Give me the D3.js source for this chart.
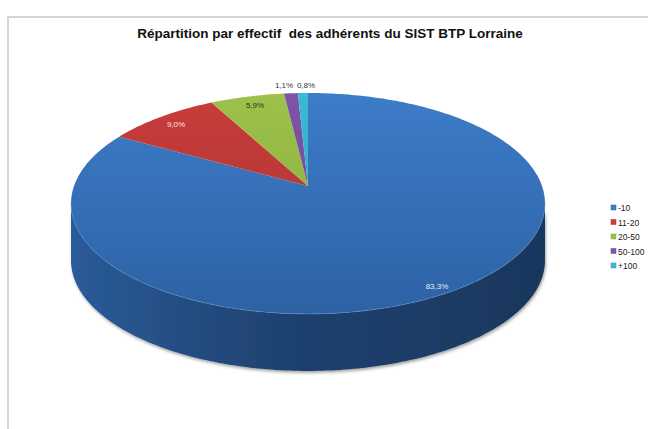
<!DOCTYPE html>
<html>
<head>
<meta charset="utf-8">
<script src="https://cdn.jsdelivr.net/npm/d3@7"></script>
<style>
  body { margin: 0; background: #fff; }
  svg { display: block; }
  text { font-family: "Liberation Sans", Arial, sans-serif; }
</style>
</head>
<body>
<svg width="648" height="429"></svg>
<script>
var categories = ["-10", "11-20", "20-50", "50-100", "+100"];
var values = [83.3, 9.0, 5.9, 1.1, 0.8];
var topColors = ["#3d7cc8", "#c93d3a", "#9cc24b", "#7d55a8", "#3cb9d8"];
var bottomColors = ["#2d62a4", "#a43331", "#84a83a", "#6a4492", "#2b9fbd"];
var labelColors = ["#e4ebf5", "#f4e2e2", "#2a3316", "#3b2a4a", "#2a3a40"];

var svg = d3.select("svg");
var defs = svg.append("defs");

// frame
svg.append("path")
    .attr("d", "M8,429 V17 H648")
    .attr("fill", "none")
    .attr("stroke", "#d6d6d6")
    .attr("stroke-width", 2);

// title
svg.append("text")
    .attr("x", 330)
    .attr("y", 38)
    .attr("text-anchor", "middle")
    .attr("font-size", 13.5)
    .attr("font-weight", "bold")
    .attr("fill", "#111")
    .style("white-space", "pre")
    .text("Répartition par effectif  des adhérents du SIST BTP Lorraine");

// pie geometry: circle seen in perspective, centre projected at apex
var ax = 308, ay = 186, A = 234, B = 107.7, k = 0.158, depth = 57;
var apex = [ax, ay];

function pt(a, dy) {
  var u = Math.sin(a), v = Math.cos(a), w = 1 + k * v;
  return [ax + A * u / w, ay - B * v / w + (dy || 0)];
}

var pie = d3.pie().sort(null).value(function(d) { return d; })
    .startAngle(0).endAngle(2 * Math.PI);
var arcs = pie(values);

var line = d3.line();

// gradients
arcs.forEach(function(d, i) {
  var g = defs.append("linearGradient")
      .attr("id", "top" + i)
      .attr("gradientUnits", "userSpaceOnUse")
      .attr("x1", 0).attr("y1", pt(0)[1])
      .attr("x2", 0).attr("y2", pt(Math.PI)[1]);
  g.append("stop").attr("offset", "0%").attr("stop-color", topColors[i]);
  g.append("stop").attr("offset", "100%").attr("stop-color", bottomColors[i]);

  var s = defs.append("linearGradient")
      .attr("id", "side" + i)
      .attr("gradientUnits", "userSpaceOnUse")
      .attr("x1", 70).attr("y1", 0)
      .attr("x2", 546).attr("y2", 0);
  s.append("stop").attr("offset", "0%").attr("stop-color", d3.color(bottomColors[i]).darker(0.2));
  s.append("stop").attr("offset", "45%").attr("stop-color", d3.color(bottomColors[i]).darker(1.1));
  s.append("stop").attr("offset", "100%").attr("stop-color", d3.color(bottomColors[i]).darker(1.6));
});

var shadow = defs.append("filter").attr("id", "shadow")
    .attr("x", "-10%").attr("y", "-10%").attr("width", "120%").attr("height", "130%");
shadow.append("feDropShadow")
    .attr("dx", 1).attr("dy", 2).attr("stdDeviation", 1.6)
    .attr("flood-color", "#000").attr("flood-opacity", 0.35);

// side walls: visible between the left and right silhouette points
var sideStart = Math.acos(-k), sideEnd = 2 * Math.PI - Math.acos(-k);
var sides = svg.append("g").attr("filter", "url(#shadow)");
arcs.forEach(function(d, i) {
  var a0 = Math.max(d.startAngle, sideStart);
  var a1 = Math.min(d.endAngle, sideEnd);
  if (a1 <= a0) return;
  var n = Math.max(2, Math.ceil((a1 - a0) * 60));
  var ts = d3.range(n + 1).map(function(j) { return a0 + (a1 - a0) * j / n; });
  var ptsTop = ts.map(function(a) { return pt(a); });
  var ptsBot = ts.slice().reverse().map(function(a) { return pt(a, depth); });
  sides.append("path")
      .attr("d", line(ptsTop.concat(ptsBot)) + "Z")
      .attr("fill", "url(#side" + i + ")");
});

// top face slices
var tops = svg.append("g");
arcs.forEach(function(d, i) {
  var n = Math.max(2, Math.ceil((d.endAngle - d.startAngle) * 60));
  var pts = [apex];
  for (var j = 0; j <= n; j++) {
    pts.push(pt(d.startAngle + (d.endAngle - d.startAngle) * j / n));
  }
  tops.append("path")
      .attr("d", line(pts) + "Z")
      .attr("fill", "url(#top" + i + ")");
});

// light rim along the front edge
svg.append("path")
    .attr("d", line(d3.range(0, 61).map(function(j) { return pt(sideStart + (sideEnd - sideStart) * j / 60); })))
    .attr("fill", "none")
    .attr("stroke", "#5a8fd0")
    .attr("stroke-opacity", 0.5)
    .attr("stroke-width", 1);

// data labels
var labelPos = [[437, 289], [176, 127], [255, 108], [284, 88], [306, 88]];
var fmt = function(v) { return d3.format(".1f")(v).replace(".", ",") + "%"; };
svg.append("g").selectAll("text")
  .data(arcs)
  .enter().append("text")
    .attr("x", function(d, i) { return labelPos[i][0]; })
    .attr("y", function(d, i) { return labelPos[i][1]; })
    .attr("text-anchor", "middle")
    .attr("font-size", 8)
    .attr("fill", function(d, i) { return labelColors[i]; })
    .text(function(d) { return fmt(d.data); });

// legend
var legend = svg.append("g").attr("transform", "translate(611,205)");
var item = legend.selectAll("g")
  .data(categories)
  .enter().append("g")
    .attr("transform", function(d, i) { return "translate(0," + (i * 14.5) + ")"; });
item.append("rect")
    .attr("x", 0).attr("y", 0)
    .attr("width", 5).attr("height", 5)
    .attr("fill", function(d, i) { return topColors[i]; })
    .attr("stroke", function(d, i) { return bottomColors[i]; })
    .attr("stroke-width", 0.5);
item.append("text")
    .attr("x", 7)
    .attr("y", 6)
    .attr("font-size", 8.5)
    .attr("fill", "#222")
    .text(function(d) { return d; });
</script>
</body>
</html>
